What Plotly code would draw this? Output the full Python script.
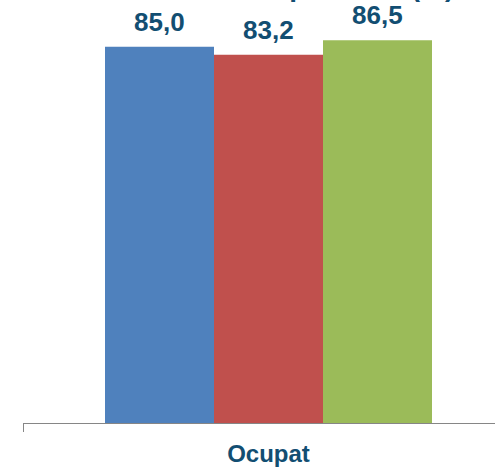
import plotly.graph_objects as go

categories = ["Ocupat"]
series_names = ["Sèrie 1", "Sèrie 2", "Sèrie 3"]
series_values = [[85.0], [83.2], [86.5]]
series_colors = ["#4F81BD", "#C0504D", "#9BBB59"]
title_text = "Situació laboral per sexe (%)"

W, H = 495, 467
ML, MR, MT, MB = 23, 0, 0, 42
plot_w = W - ML - MR
plot_h = H - MT - MB
cat_px = 491.0  # pixel width of one category slot
x_right = -0.5 + plot_w / cat_px
y_max = plot_h / 4.447

text_color = "#124E72"
font_family = "Liberation Sans, Arial, sans-serif"

fig = go.Figure()
for name, vals, col in zip(series_names, series_values, series_colors):
    fig.add_trace(go.Bar(x=categories, y=vals, name=name, marker=dict(color=col, line=dict(width=0))))

bar_px = cat_px * (1 - 0.334) / len(series_values)
for i, vals in enumerate(series_values):
    for c, v in zip(categories, vals):
        fig.add_annotation(
            x=c, y=v, xref="x", yref="y",
            text=f"{v:.1f}".replace(".", ","),
            showarrow=False, yanchor="middle",
            xshift=(i - (len(series_values) - 1) / 2) * bar_px,
            yshift=25,
            font=dict(size=26, color=text_color, family=font_family, weight="bold"),
        )

fig.add_annotation(
    x=(456 - ML) / plot_w, y=1 - 4 / plot_h, xref="paper", yref="paper",
    xanchor="right", yanchor="bottom", showarrow=False,
    text=title_text,
    font=dict(size=28, color=text_color, family=font_family, weight="bold"),
)

fig.update_layout(
    width=W, height=H,
    margin=dict(l=ML, r=MR, t=MT, b=MB, pad=0),
    paper_bgcolor="white", plot_bgcolor="white",
    barmode="group", bargap=0.334, bargroupgap=0,
    showlegend=False,
    font=dict(family=font_family, color=text_color),
    xaxis=dict(
        type="category", range=[-0.5, x_right],
        showline=True, linecolor="#868686", linewidth=1,
        ticks="outside", tickson="boundaries", ticklen=8, tickcolor="#868686", tickwidth=1,
        ticklabelstandoff=9,
        showgrid=False, zeroline=False,
        tickfont=dict(size=24, color=text_color, family=font_family, weight="bold"),
    ),
    yaxis=dict(range=[0, y_max], visible=False, showgrid=False, zeroline=False),
)

fig.write_html(
    "out.html",
    config={"displayModeBar": False},
    post_script="document.body.style.margin='0';document.body.style.overflow='hidden';",
)
